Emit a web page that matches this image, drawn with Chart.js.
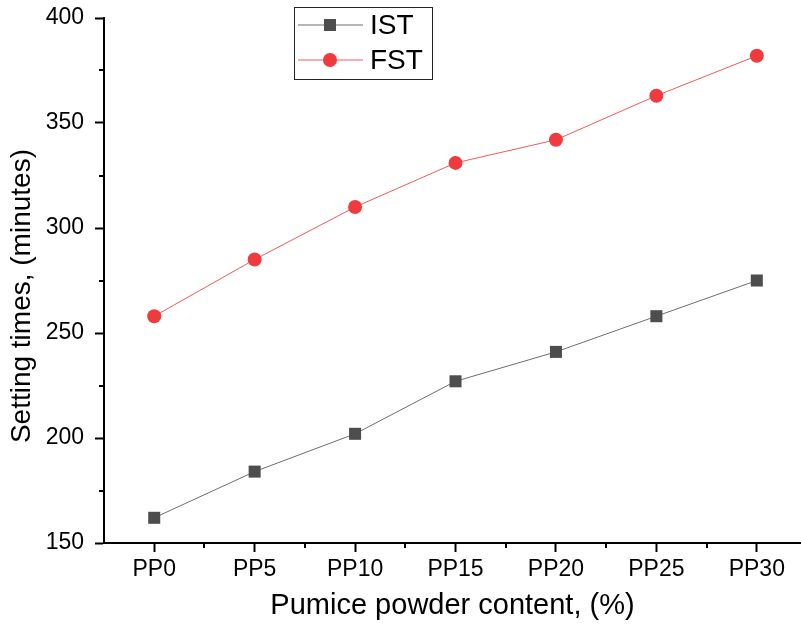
<!DOCTYPE html>
<html>
<head>
<meta charset="utf-8">
<script src="https://cdn.jsdelivr.net/npm/chart.js@4.4.1/dist/chart.umd.min.js"></script>
<style>
html,body{margin:0;padding:0;background:#fff;overflow:hidden;}
#wrap{width:801px;height:627px;position:relative;}
</style>
</head>
<body>
<div id="wrap"><canvas id="c" width="801" height="627"></canvas></div>
<script>
// ---- data ----
const categories = ["PP0", "PP5", "PP10", "PP15", "PP20", "PP25", "PP30"];
const istValues = [162, 184, 202, 227, 241, 258, 275];
const fstValues = [258, 285, 310, 331, 342, 363, 382];
const seriesNames = ["IST", "FST"];
const yTickMin = 150, yTickMax = 400, yMajorStep = 50, yMinorStep = 25;
const xAxisTitle = "Pumice powder content, (%)";
const yAxisTitle = "Setting times, (minutes)";

// ---- styles ----
const FONT = "'Liberation Sans', Arial, Helvetica, sans-serif";
const istMarker = "#4d4d4d", istLine = "#6e6e6e";
const fstMarker = "#ef3b3e", fstLine = "#f25a5c";

const toXY = arr => arr.map((v, i) => ({x: i, y: v}));

const minorTicks = {
  id: 'minorTicks',
  afterDraw(chart) {
    const ctx = chart.ctx;
    ctx.save();
    ctx.strokeStyle = '#000';
    ctx.lineWidth = 2;
    const xs = chart.scales.x, ys = chart.scales.y;
    xs.ticks.forEach(t => {
      if (!Number.isInteger(t.value) && t.value > xs.min) {
        const px = Math.round(xs.getPixelForValue(t.value));
        ctx.beginPath(); ctx.moveTo(px, xs.top); ctx.lineTo(px, xs.top + 5); ctx.stroke();
      }
    });
    ys.ticks.forEach(t => {
      if (t.value % yMajorStep !== 0) {
        const py = Math.round(ys.getPixelForValue(t.value));
        ctx.beginPath(); ctx.moveTo(ys.right, py); ctx.lineTo(ys.right - 5, py); ctx.stroke();
      }
    });
    ctx.restore();
  }
};

const boxLegend = {
  id: 'boxLegend',
  afterDraw(chart) {
    const ctx = chart.ctx;
    const L = 294, T = 7, W = 138, H = 72;
    ctx.save();
    ctx.fillStyle = '#fff';
    ctx.fillRect(L, T, W, H);
    ctx.strokeStyle = '#222';
    ctx.lineWidth = 1;
    ctx.strokeRect(L + 0.5, T + 0.5, W, H);
    chart.data.datasets.forEach((ds, i) => {
      const y = T + 18 + i * 35;
      ctx.strokeStyle = ds.borderColor;
      ctx.lineWidth = 1;
      ctx.beginPath(); ctx.moveTo(L + 4, y); ctx.lineTo(L + 69, y); ctx.stroke();
      ctx.fillStyle = ds.pointBackgroundColor;
      ctx.beginPath();
      if (ds.pointStyle === 'rect') {
        ctx.rect(L + 36 - 6, y - 6, 12, 12);
      } else {
        ctx.arc(L + 36, y, 7, 0, Math.PI * 2);
      }
      ctx.fill();
      ctx.fillStyle = '#000';
      ctx.font = "28px " + FONT;
      ctx.textBaseline = 'middle';
      ctx.textAlign = 'left';
      ctx.fillText(ds.label, L + 76, y + 1);
    });
    ctx.restore();
  }
};

new Chart(document.getElementById('c'), {
  type: 'line',
  data: {
    datasets: [
      {
        label: seriesNames[0],
        data: toXY(istValues),
        borderColor: istLine,
        borderWidth: 1,
        pointStyle: 'rect',
        pointRadius: 8.5,
        pointBackgroundColor: istMarker,
        pointBorderWidth: 0,
        tension: 0
      },
      {
        label: seriesNames[1],
        data: toXY(fstValues),
        borderColor: fstLine,
        borderWidth: 1,
        pointStyle: 'circle',
        pointRadius: 7,
        pointBackgroundColor: fstMarker,
        pointBorderWidth: 0,
        tension: 0
      }
    ]
  },
  options: {
    responsive: false,
    animation: false,
    layout: {autoPadding: false, padding: {top: 18, right: 0, left: 0, bottom: 0}},
    plugins: {legend: {display: false}, tooltip: {enabled: false}},
    scales: {
      x: {
        type: 'linear',
        min: -0.5,
        max: 6.44,
        afterFit: s => { s.height = 84; s.paddingRight = 0; s.paddingLeft = 0; },
        afterBuildTicks: s => {
          const t = [];
          for (let v = 0; v <= s.max; v += 0.5) t.push({value: v});
          s.ticks = t;
        },
        ticks: {
          autoSkip: false, maxRotation: 0, minRotation: 0,
          padding: 4,
          color: '#000',
          font: {family: FONT, size: 23},
          callback: v => Number.isInteger(v) && v >= 0 && v < categories.length ? categories[v] : ''
        },
        grid: {
          display: true, drawOnChartArea: false, drawTicks: true,
          tickLength: 9, tickWidth: 2,
          tickColor: c => (c.tick && Number.isInteger(c.tick.value)) ? '#000' : 'rgba(0,0,0,0)'
        },
        border: {display: true, color: '#000', width: 2},
        title: {display: true, text: xAxisTitle, color: '#000',
          font: {family: FONT, size: 29}, padding: {top: 0, bottom: 4}}
      },
      y: {
        min: yTickMin,
        max: yTickMax,
        afterFit: s => { s.width = 104; s.paddingTop = 0; s.paddingBottom = 0; },
        ticks: {
          stepSize: yMinorStep,
          autoSkip: false,
          padding: 11,
          color: '#000',
          font: {family: FONT, size: 23},
          callback: v => v % yMajorStep === 0 ? String(v) : ''
        },
        grid: {
          display: true, drawOnChartArea: false, drawTicks: true,
          tickLength: 9, tickWidth: 2,
          tickColor: c => (c.tick && c.tick.value % yMajorStep === 0) ? '#000' : 'rgba(0,0,0,0)'
        },
        border: {display: true, color: '#000', width: 2},
        title: {display: true, text: yAxisTitle + "\u2007\u2007", color: '#000',
          font: {family: FONT, size: 28}, padding: {top: 5, bottom: 0}}
      }
    }
  },
  plugins: [minorTicks, boxLegend]
});
</script>
</body>
</html>
